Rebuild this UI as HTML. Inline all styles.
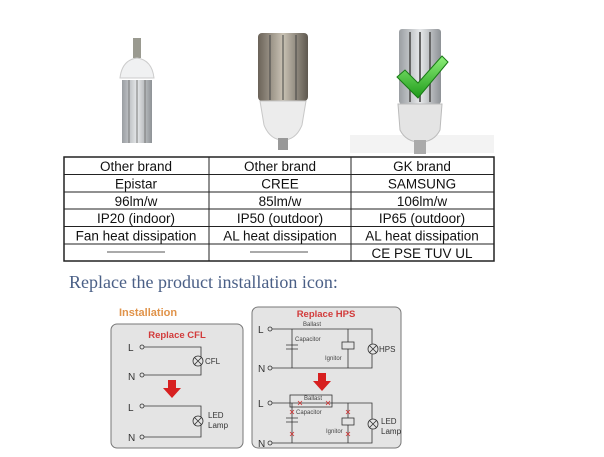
<!DOCTYPE html>
<html><head><style>
body{margin:0;background:#fff;width:604px;height:457px;overflow:hidden;position:relative;font-family:"Liberation Sans",sans-serif}
</style></head><body>
<svg width="604" height="457" xmlns="http://www.w3.org/2000/svg" style="position:absolute;left:0;top:0">
<defs>
<linearGradient id="sil" x1="0" x2="1"><stop offset="0" stop-color="#9a9ea2"/><stop offset=".5" stop-color="#e6e8ea"/><stop offset="1" stop-color="#8e9296"/></linearGradient>
<linearGradient id="dk" x1="0" x2="1"><stop offset="0" stop-color="#6a6258"/><stop offset=".5" stop-color="#c9c2b4"/><stop offset="1" stop-color="#5e584f"/></linearGradient>
<linearGradient id="gr" x1="0" y1="0" x2="0" y2="1"><stop offset="0" stop-color="#8ef07a"/><stop offset="1" stop-color="#1e9a1a"/></linearGradient>
</defs>
<rect x="133" y="38" width="8" height="20" fill="#9a9a90"/>
<path d="M120 78 Q122 60 137 58 Q152 60 154 78 Z" fill="#f0f1f2" stroke="#ccc"/>
<rect x="122" y="80" width="30" height="63" fill="url(#sil)"/>
<line x1="129" y1="80" x2="129" y2="143" stroke="#777"/><line x1="137" y1="80" x2="137" y2="143" stroke="#777"/><line x1="145" y1="80" x2="145" y2="143" stroke="#777"/>
<rect x="258" y="33" width="50" height="68" rx="4" fill="url(#dk)"/>
<line x1="270" y1="35" x2="270" y2="100" stroke="#444"/><line x1="283" y1="35" x2="283" y2="100" stroke="#444"/><line x1="296" y1="35" x2="296" y2="100" stroke="#444"/>
<path d="M260 101 L306 101 L302 125 Q296 140 283 140 Q270 140 264 125 Z" fill="#ececec" stroke="#c8c8c8"/>
<rect x="278" y="138" width="10" height="12" fill="#999"/>
<rect x="350" y="135" width="144" height="18" fill="#f3f3f3"/>
<rect x="399" y="29" width="42" height="75" rx="3" fill="url(#sil)"/>
<line x1="410" y1="32" x2="410" y2="102" stroke="#666" stroke-width="2"/><line x1="420" y1="32" x2="420" y2="102" stroke="#666" stroke-width="2"/><line x1="430" y1="32" x2="430" y2="102" stroke="#666" stroke-width="2"/>
<path d="M398 104 L442 104 L440 130 Q434 142 420 142 Q406 142 400 130 Z" fill="#e4e4e4" stroke="#bbb"/>
<rect x="414" y="140" width="12" height="14" fill="#aaa"/>
<path d="M397 77 L405 70 L418 83 L442 56 L448 62 L418 98 Z" fill="url(#gr)" stroke="#197a16"/>
<g stroke="#222" fill="none">
<rect x="64" y="157" width="430" height="104" stroke-width="1.5"/>
<line x1="209" y1="157" x2="209" y2="261"/><line x1="351" y1="157" x2="351" y2="261"/>
<line x1="64" y1="174.5" x2="494" y2="174.5"/><line x1="64" y1="192" x2="494" y2="192"/><line x1="64" y1="209" x2="494" y2="209"/><line x1="64" y1="226.5" x2="494" y2="226.5"/><line x1="64" y1="244" x2="494" y2="244"/>
<line x1="107" y1="252" x2="165" y2="252" stroke="#555"/><line x1="250" y1="252" x2="308" y2="252" stroke="#555"/>
</g>
<g font-size="13.5" fill="#111" text-anchor="middle" font-family="Liberation Sans,sans-serif">
<text x="136" y="171">Other brand</text><text x="280" y="171">Other brand</text><text x="422" y="171">GK brand</text>
<text x="136" y="188.5">Epistar</text><text x="280" y="188.5">CREE</text><text x="422" y="188.5">SAMSUNG</text>
<text x="136" y="206">96lm/w</text><text x="280" y="206">85lm/w</text><text x="422" y="206">106lm/w</text>
<text x="136" y="223">IP20 (indoor)</text><text x="280" y="223">IP50 (outdoor)</text><text x="422" y="223">IP65 (outdoor)</text>
<text x="136" y="240.5">Fan heat dissipation</text><text x="280" y="240.5">AL heat dissipation</text><text x="422" y="240.5">AL heat dissipation</text>
<text x="422" y="258">CE PSE TUV UL</text>
</g>
<text x="69" y="288" font-family="Liberation Serif,serif" font-size="18" fill="#4a5f86">Replace the product installation icon:</text>
<text x="119" y="316" font-size="11" font-weight="bold" fill="#e0934a">Installation</text>
<rect x="111" y="324" width="132" height="124" rx="6" fill="#e4e4e4" stroke="#777"/>
<text x="177" y="338" font-size="9.5" font-weight="bold" fill="#d23a3a" text-anchor="middle">Replace CFL</text>
<g stroke="#333" fill="none" stroke-width=".8">
<circle cx="142" cy="347" r="2"/><circle cx="142" cy="375" r="2"/>
<polyline points="144,347 201,347 201,375 144,375"/>
<circle cx="198" cy="361" r="5" fill="#e4e4e4"/><path d="M194.5 357.5l7 7M201.5 357.5l-7 7"/>
<circle cx="142" cy="406" r="2"/><circle cx="142" cy="437" r="2"/>
<polyline points="144,406 201,406 201,437 144,437"/>
<circle cx="198" cy="421" r="5" fill="#e4e4e4"/><path d="M194.5 417.5l7 7M201.5 417.5l-7 7"/>
</g>
<g font-size="10" fill="#333"><text x="128" y="351">L</text><text x="128" y="380">N</text><text x="128" y="411">L</text><text x="128" y="441">N</text></g>
<g font-size="8" fill="#333"><text x="205" y="364">CFL</text><text x="208" y="418">LED</text><text x="208" y="428">Lamp</text></g>
<path d="M168 380h8v8h5l-9 10l-9-10h5z" fill="#d72020"/>
<rect x="252" y="307" width="149" height="141" rx="6" fill="#e4e4e4" stroke="#777"/>
<text x="326" y="317" font-size="9.5" font-weight="bold" fill="#d23a3a" text-anchor="middle">Replace HPS</text>
<g stroke="#333" fill="none" stroke-width=".8">
<circle cx="270" cy="329" r="2"/><circle cx="270" cy="368" r="2"/>
<polyline points="272,329 372,329 372,368 272,368"/>
<path d="M292 329v39M286 345h12M286 349h12"/>
<path d="M348 329v39"/><rect x="342" y="342" width="12" height="7" fill="#e4e4e4"/>
<circle cx="373" cy="349" r="5" fill="#e4e4e4"/><path d="M369.5 345.5l7 7M376.5 345.5l-7 7"/>
<circle cx="270" cy="403" r="2"/><circle cx="270" cy="443" r="2"/>
<polyline points="272,403 372,403 372,443 272,443"/>
<rect x="290" y="395" width="42" height="12"/>
<path d="M292 403v40M286 418h12M286 422h12"/>
<path d="M348 403v40"/><rect x="342" y="418" width="12" height="7" fill="#e4e4e4"/>
<circle cx="373" cy="424" r="5" fill="#e4e4e4"/><path d="M369.5 420.5l7 7M376.5 420.5l-7 7"/>
</g>
<g stroke="#d03030" stroke-width=".8"><path d="M290 410l4 4M294 410l-4 4M290 432l4 4M294 432l-4 4M346 410l4 4M350 410l-4 4M346 432l4 4M350 432l-4 4M298 401l4 4M302 401l-4 4M326 401l4 4M330 401l-4 4"/></g>
<g font-size="10" fill="#333"><text x="258" y="333">L</text><text x="258" y="372">N</text><text x="258" y="407">L</text><text x="258" y="447">N</text></g>
<g font-size="6" fill="#444"><text x="303" y="326">Ballast</text><text x="295" y="341">Capacitor</text><text x="325" y="360">Ignitor</text><text x="304" y="400">Ballast</text><text x="296" y="414">Capacitor</text><text x="326" y="433">Ignitor</text></g>
<g font-size="8" fill="#333"><text x="379" y="352">HPS</text><text x="381" y="424">LED</text><text x="381" y="434">Lamp</text></g>
<path d="M318 373h8v8h5l-9 10l-9-10h5z" fill="#d72020"/>
</svg>
</body></html>
